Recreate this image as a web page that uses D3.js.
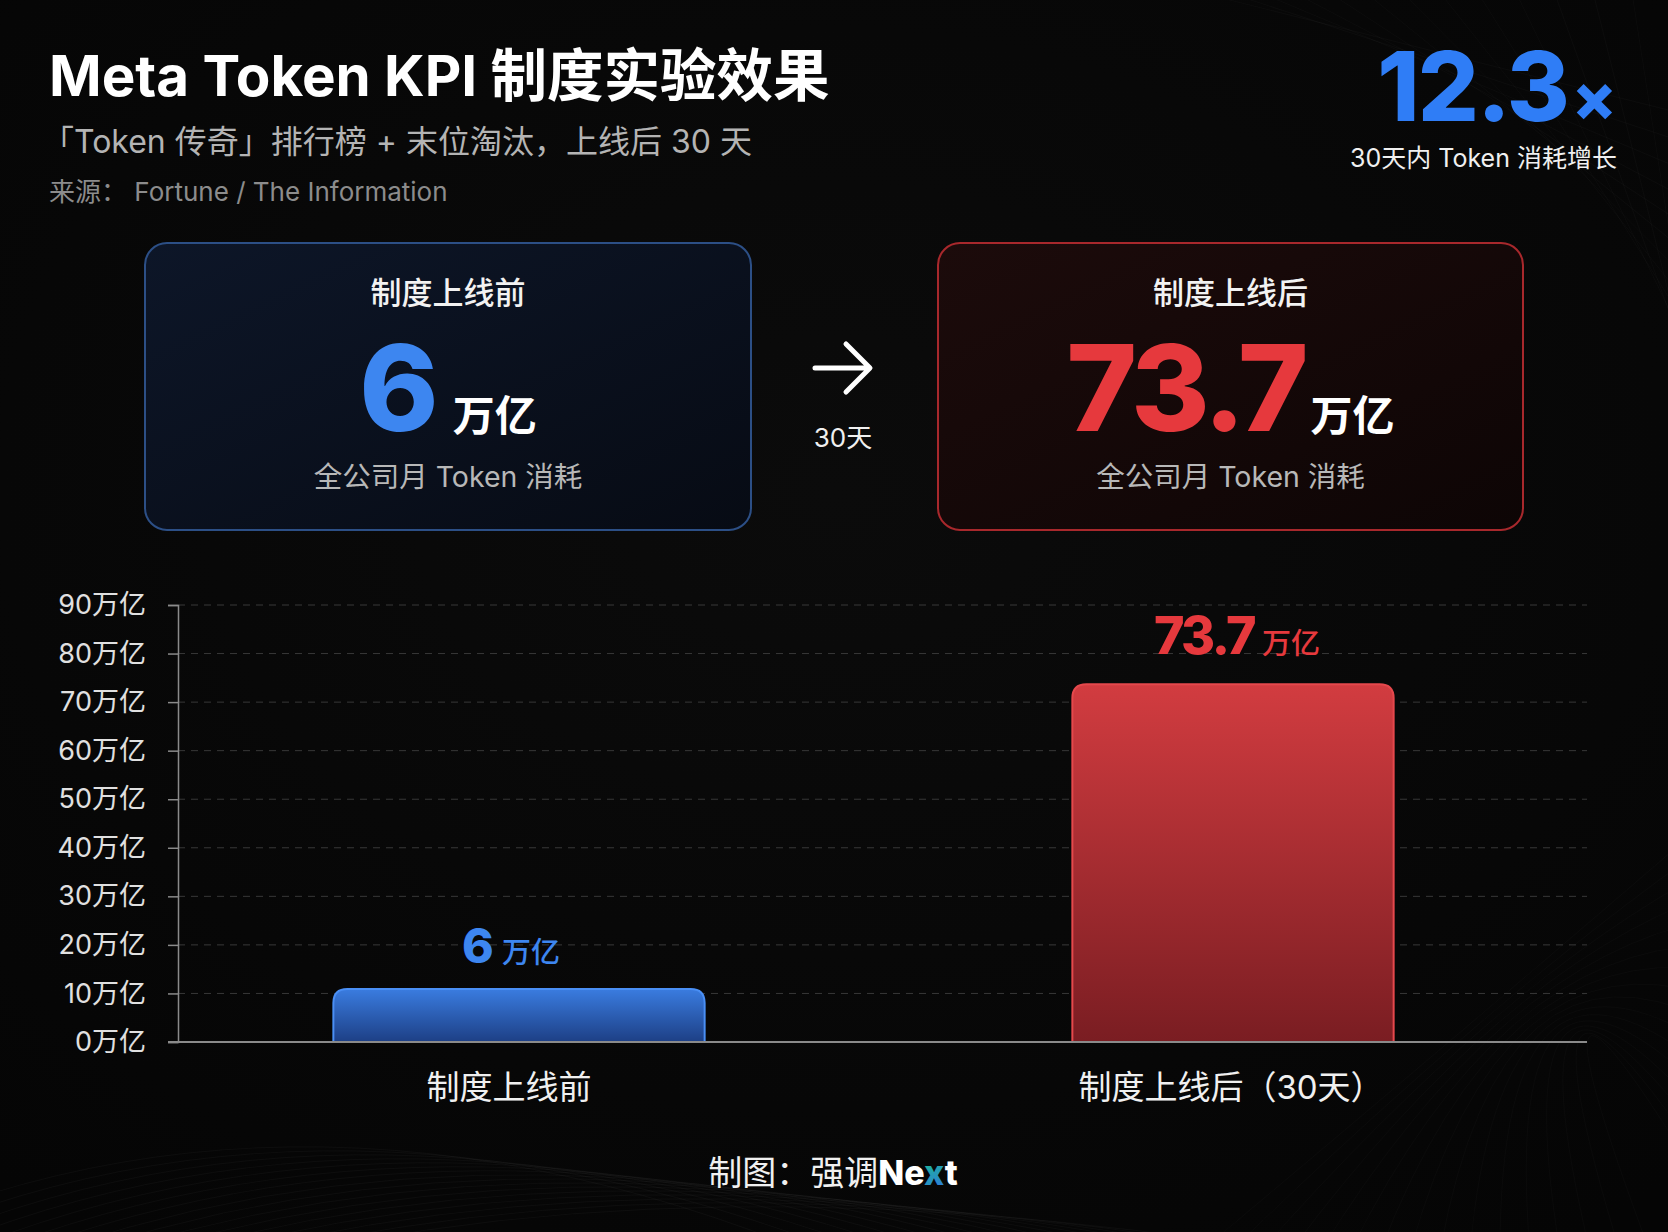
<!DOCTYPE html>
<html><head><meta charset="utf-8">
<script src="https://cdn.jsdelivr.net/npm/d3@7"></script>
<style>
html,body{margin:0;padding:0;background:#070707;}
svg{display:block;}
text{font-family:"Inter","Noto Sans CJK SC",sans-serif;}
</style></head><body>
<svg id="c" width="1668" height="1232"></svg>
<script>
// ---------- data ----------
const categories = ["制度上线前", "制度上线后（30天）"];
const values = [6, 73.7];
const unit = "万亿";
const yTicks = [0, 10, 20, 30, 40, 50, 60, 70, 80, 90];
const cardTitles = ["制度上线前", "制度上线后"];
const cardCaption = "全公司月 Token 消耗";
const multiple = 12.3;
const multipleCaption = "30天内 Token 消耗增长";
const arrowLabel = "30天";
const titleText = "Meta Token KPI 制度实验效果";
const subtitleText = "「Token 传奇」排行榜 + 末位淘汰，上线后 30 天";
const sourceText = "来源：  Fortune / The Information";

// ---------- styles ----------
const W = 1668, H = 1232;
const colors = ["#3d86f0", "#e6393d"];
const barWidthFrac = [0.52, 0.45];
const minBarPx = 53;

const svg = d3.select("#c");
const defs = svg.append("defs");

// background
const bg = defs.append("radialGradient").attr("id","bgG").attr("cx","50%").attr("cy","40%").attr("r","75%");
bg.append("stop").attr("offset","0%").attr("stop-color","#0b0b0b");
bg.append("stop").attr("offset","100%").attr("stop-color","#050505");
svg.append("rect").attr("width",W).attr("height",H).attr("fill","url(#bgG)");

// faint decorative streaks
const deco = svg.append("g").attr("fill","none").attr("stroke","#ffffff");
d3.range(0, 16).forEach(i => {
  deco.append("path")
    .attr("d", `M${-200 + i*28},${H + 40} Q${300 + i*30},${H - 220 + i*8} ${900 + i*40},${H + 60}`)
    .attr("stroke-opacity", 0.03);
  deco.append("path")
    .attr("d", `M${1150 + i*40},${-20} L${W + 40},${120 + i*30}`)
    .attr("stroke-opacity", 0.025);
  deco.append("path")
    .attr("d", `M${1200 + i*30},${H + 20} Q${1500},${1000 - i*10} ${W + 40},${820 + i*25}`)
    .attr("stroke-opacity", 0.02);
});

// ---------- header ----------
svg.append("text").attr("x",49).attr("y",96)
  .attr("font-size",56.5).attr("font-weight",700).attr("fill","#ffffff")
  .text(titleText);
svg.append("text").attr("x",42).attr("y",153)
  .attr("font-size",32).attr("fill","#b4b4b4")
  .text(subtitleText);
svg.append("text").attr("x",49).attr("y",201)
  .attr("font-size",26).attr("fill","#8c8c8c")
  .text(sourceText);

// 12.3x
const mult = svg.append("text").attr("x",1617).attr("y",121).attr("text-anchor","end")
  .attr("fill","#2f7df6").attr("font-weight",800);
mult.append("tspan").attr("font-size",96).attr("letter-spacing",-2).text(multiple.toFixed(1));
mult.append("tspan").attr("font-size",66).attr("dx",4).text("×");
svg.append("text").attr("x",1617).attr("y",167).attr("text-anchor","end")
  .attr("font-size",25).attr("fill","#f0f0f0").text(multipleCaption);

// ---------- cards ----------
const cards = [
  {x:145, y:243, w:606, h:287, stroke:"#2c4f86", c1:"#0d1628", c2:"#070b14", gap:18},
  {x:938, y:243, w:585, h:287, stroke:"#a8282c", c1:"#1c0b0b", c2:"#0d0505", gap:6}
];
cards.forEach((c, i) => {
  const g = defs.append("linearGradient").attr("id","cardG"+i)
    .attr("x1","0").attr("y1","0").attr("x2","1").attr("y2","1");
  g.append("stop").attr("offset","0%").attr("stop-color",c.c1);
  g.append("stop").attr("offset","100%").attr("stop-color",c.c2);
  svg.append("rect").attr("x",c.x).attr("y",c.y).attr("width",c.w).attr("height",c.h)
    .attr("rx",22).attr("fill","url(#cardG"+i+")").attr("stroke",c.stroke).attr("stroke-width",2);
  const cx = c.x + c.w/2;
  svg.append("text").attr("x",cx).attr("y",304).attr("text-anchor","middle")
    .attr("font-size",31).attr("font-weight",500).attr("fill","#f2f2f2").text(cardTitles[i]);
  const big = svg.append("text").attr("x",cx).attr("y",431).attr("text-anchor","middle");
  big.append("tspan").attr("font-size",120).attr("font-weight",800).attr("fill",colors[i])
    .attr("letter-spacing",-4).text(String(values[i]));
  big.append("tspan").attr("dx",c.gap).attr("font-size",42).attr("font-weight",700).attr("fill","#ffffff").text(unit);
  svg.append("text").attr("x",cx).attr("y",487).attr("text-anchor","middle")
    .attr("font-size",28.5).attr("fill","#b8b8b8").text(cardCaption);
});

// arrow
svg.append("path").attr("d","M815,368 L868,368 M846,344 L870,368 L846,392")
  .attr("fill","none").attr("stroke","#ffffff").attr("stroke-width",5)
  .attr("stroke-linecap","round").attr("stroke-linejoin","round");
svg.append("text").attr("x",843).attr("y",447).attr("text-anchor","middle")
  .attr("font-size",26).attr("fill","#f0f0f0").text(arrowLabel);

// ---------- chart ----------
const y = d3.scaleLinear().domain([0, 90]).range([1042, 605]);
const x = d3.scaleBand().domain(categories).range([162, 1590]).paddingInner(0).paddingOuter(0);
const axisX = 178, axisRight = 1587;

// grid
svg.append("g").selectAll("line").data(yTicks.filter(d => d > 0)).join("line")
  .attr("x1",axisX).attr("x2",axisRight)
  .attr("y1",d => y(d)).attr("y2",d => y(d))
  .attr("stroke","#383838").attr("stroke-width",1).attr("stroke-dasharray","7,6");

// y axis
const yAxis = d3.axisLeft(y).tickValues(yTicks).tickSize(10).tickPadding(22)
  .tickFormat(d => d + unit);
const ya = svg.append("g").attr("transform",`translate(${axisX},0)`).call(yAxis);
ya.select(".domain").attr("stroke","#8a8a8a").attr("stroke-width",1.5);
ya.selectAll(".tick line").attr("stroke","#8a8a8a").attr("stroke-width",1.5);
ya.selectAll(".tick text").attr("fill","#e0e0e0").attr("font-size",27)
  .attr("font-family","Inter, 'Noto Sans CJK SC', sans-serif");

// bar gradients
const barGrad = [["#3a7ce0","#1d3f85"],["#d23c40","#7a1d22"]];
barGrad.forEach((gc, i) => {
  const g = defs.append("linearGradient").attr("id","barG"+i)
    .attr("x1","0").attr("y1","0").attr("x2","0").attr("y2","1");
  g.append("stop").attr("offset","0%").attr("stop-color",gc[0]);
  g.append("stop").attr("offset","100%").attr("stop-color",gc[1]);
});
const barStroke = ["#4a8ff5","#e5484c"];

function topRounded(x0, y0, w, h, r) {
  return `M${x0},${y0+h} L${x0},${y0+r} Q${x0},${y0} ${x0+r},${y0} L${x0+w-r},${y0} Q${x0+w},${y0} ${x0+w},${y0+r} L${x0+w},${y0+h}`;
}

const bars = categories.map((c, i) => {
  const bw = x.bandwidth() * barWidthFrac[i];
  const cx = x(c) + x.bandwidth()/2;
  const h = Math.max(y(0) - y(values[i]), minBarPx);
  return {c, i, cx, bw, x0: cx - bw/2, top: y(0) - h, h};
});

svg.append("g").selectAll("path").data(bars).join("path")
  .attr("d", d => topRounded(d.x0, d.top, d.bw, d.h, 14) + " Z")
  .attr("fill", d => "url(#barG"+d.i+")")
  .attr("stroke", d => barStroke[d.i]).attr("stroke-width",2);

// x baseline
svg.append("line").attr("x1",168).attr("x2",axisRight).attr("y1",y(0)).attr("y2",y(0))
  .attr("stroke","#8a8a8a").attr("stroke-width",2);

// value labels
const labelDx = [-8, 4];
const vl = svg.append("g").selectAll("text").data(bars).join("text")
  .attr("x", d => d.cx + labelDx[d.i]).attr("y", d => d.top - (d.i === 0 ? 26 : 30))
  .attr("text-anchor","middle").attr("fill", d => colors[d.i]);
vl.append("tspan").attr("font-weight",800).attr("font-size", d => d.i === 0 ? 48 : 52)
  .attr("letter-spacing", d => d.i === 0 ? 0 : -2.5)
  .text(d => String(values[d.i]));
vl.append("tspan").attr("dx",8).attr("font-size",29).attr("font-weight",500).text(unit);

// x axis labels
const xLabelDx = [-10, -2];
const xAxis = d3.axisBottom(x).tickSize(0).tickPadding(0);
const xa = svg.append("g").attr("transform",`translate(0,${y(0)})`).call(xAxis);
xa.select(".domain").remove();
xa.selectAll(".tick text").attr("fill","#f0f0f0").attr("font-size",33)
  .attr("font-family","Inter, 'Noto Sans CJK SC', sans-serif")
  .attr("dy",0).attr("y",57).attr("dx",(d,i) => xLabelDx[i]);

// footer
const ft = svg.append("text").attr("x",833).attr("y",1185).attr("text-anchor","middle")
  .attr("font-size",34).attr("fill","#f0f0f0");
ft.append("tspan").text("制图：强调");
ft.append("tspan").attr("font-weight",800).attr("fill","#ffffff").text("Ne");
const xt = ft.append("tspan").attr("font-weight",800).text("x");
ft.append("tspan").attr("font-weight",800).attr("fill","#ffffff").text("t");
const ext = ft.node().getExtentOfChar(7);
const fg = defs.append("linearGradient").attr("id","xG").attr("gradientUnits","userSpaceOnUse")
  .attr("x1",ext.x).attr("y1",ext.y + ext.height*0.3).attr("x2",ext.x + ext.width).attr("y2",ext.y + ext.height);
fg.append("stop").attr("offset","0%").attr("stop-color","#1fb59a");
fg.append("stop").attr("offset","100%").attr("stop-color","#2f6fe6");
xt.attr("fill","url(#xG)");
</script>
</body></html>
